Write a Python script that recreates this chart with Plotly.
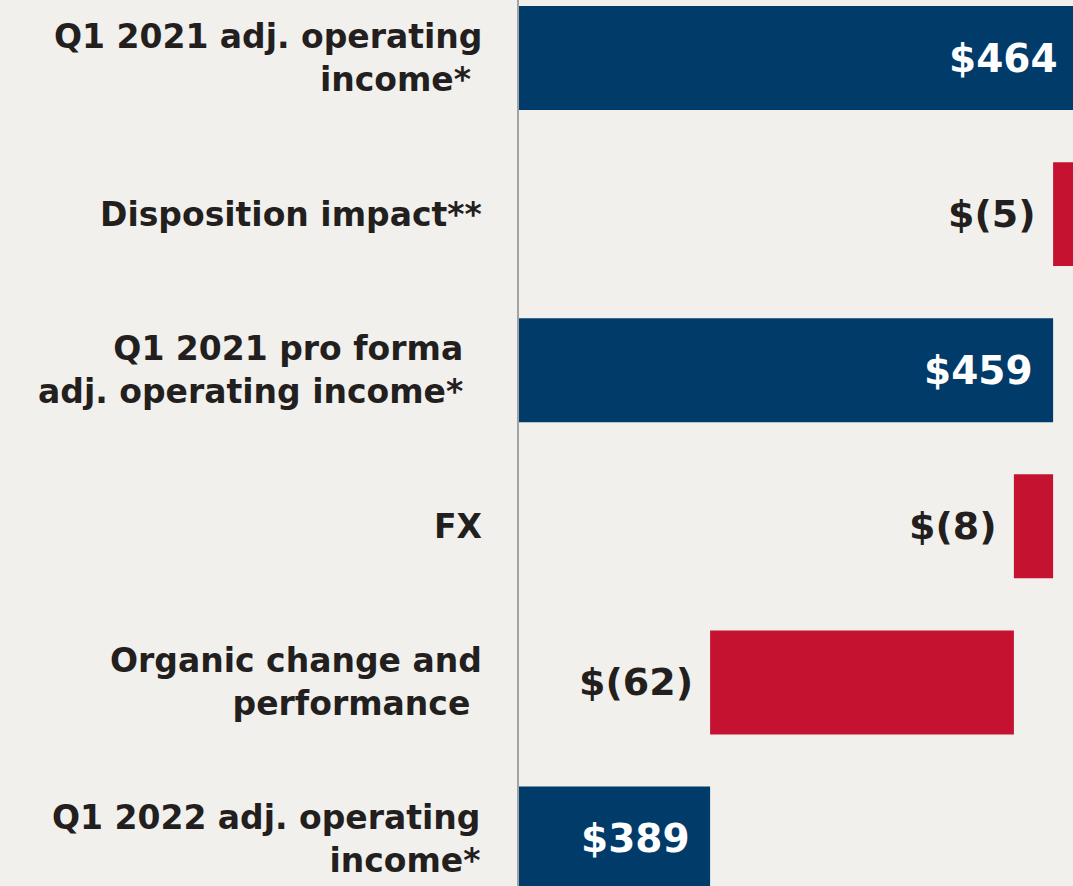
import plotly.graph_objects as go

categories = [
    "Q1 2021 adj. operating<br>income*&nbsp;",
    "Disposition impact**",
    "Q1 2021 pro forma<br>adj. operating income*",
    "FX",
    "Organic change and<br>performance&nbsp;",
    "Q1 2022 adj. operating<br>income*",
]
values = [464, -5, 459, -8, -62, 389]
measures = ["total", "relative", "total", "relative", "relative", "total"]

BLUE = "#003b6a"
RED = "#c41230"
DARK = "#231f1e"
BG = "#f1f0ec"
FONT = "DejaVu Sans"
LABEL_SHIFT = [-35, -35, -54, -35, -35, -37]

X_RANGE = [350, 350 + 554 / 4.9]

ypos = list(range(len(categories)))
bases, lengths, colors, texts = [], [], [], []
running = 0
for v, m in zip(values, measures):
    if m == "total":
        running = v
        bases.append(0)
        lengths.append(v)
        colors.append(BLUE)
        texts.append(f"${v}")
    else:
        running += v
        bases.append(running)
        lengths.append(-v)
        colors.append(RED)
        texts.append(f"$({-v})")


def to_paper(val):
    return (val - X_RANGE[0]) / (X_RANGE[1] - X_RANGE[0])


fig = go.Figure()
fig.add_trace(go.Bar(
    y=ypos, x=lengths, base=bases, orientation="h",
    marker=dict(color=colors, line=dict(width=0)),
    width=0.666, hoverinfo="skip", showlegend=False,
))

annotations = []
for i, (cat, m) in enumerate(zip(categories, measures)):
    annotations.append(dict(
        xref="paper", yref="y", x=0, y=ypos[i], xshift=LABEL_SHIFT[i],
        xanchor="right", yanchor="middle", align="right",
        text=cat, showarrow=False,
        font=dict(family=FONT, size=33, color=DARK, weight="bold"),
    ))
    if m == "total":
        annotations.append(dict(
            xref="paper", yref="y", x=to_paper(bases[i] + lengths[i]), y=ypos[i],
            xshift=-18, xanchor="right", yanchor="middle", text=texts[i],
            showarrow=False,
            font=dict(family=FONT, size=39, color="white", weight="bold"),
        ))
    else:
        annotations.append(dict(
            xref="paper", yref="y", x=to_paper(bases[i]), y=ypos[i],
            xshift=-15, xanchor="right", yanchor="middle", text=texts[i],
            showarrow=False,
            font=dict(family=FONT, size=38, color=DARK, weight="bold"),
        ))

fig.update_layout(
    width=1073, height=886,
    margin=dict(l=519, r=0, t=0, b=0),
    paper_bgcolor=BG, plot_bgcolor=BG,
    annotations=annotations,
    xaxis=dict(range=X_RANGE, showgrid=False, zeroline=False,
               showticklabels=False, showline=False, fixedrange=True),
    yaxis=dict(range=[5.304, -0.3716], showgrid=False, zeroline=False,
               showticklabels=False, showline=True, linecolor="#a3a3a3", linewidth=2,
               fixedrange=True),
)

fig.write_html(
    "out.html",
    config={"displayModeBar": False},
    post_script="document.body.style.margin='0';document.body.style.overflow='hidden';",
)
